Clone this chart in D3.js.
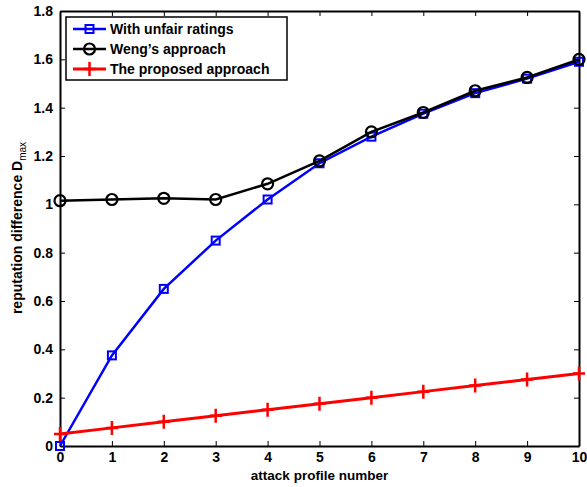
<!DOCTYPE html>
<html lang="en">
<head>
    <meta charset="UTF-8">
    <title>Reputation difference</title>
    <script src="https://cdn.jsdelivr.net/npm/d3@7"></script>
    <style>
        body { margin: 0; background: #fff; }
        svg { font-family: "Liberation Sans", Arial, sans-serif; font-weight: bold; }
    </style>
</head>
<body>
<div id="chart-space"></div>
<script>
    // data
    var profiles = [0, 1, 2, 3, 4, 5, 6, 7, 8, 9, 10];
    var unfairValues = [0.0, 0.375, 0.65, 0.85, 1.02, 1.17, 1.28, 1.375, 1.46, 1.52, 1.59];
    var wengValues = [1.015, 1.02, 1.025, 1.02, 1.085, 1.18, 1.30, 1.38, 1.47, 1.525, 1.60];
    var proposedValues = [0.05, 0.075, 0.10, 0.125, 0.15, 0.175, 0.20, 0.225, 0.25, 0.275, 0.30];
    var seriesNames = ["With unfair ratings", "Weng\u2019s approach", "The proposed approach"];
    var yTicks = [0, 0.2, 0.4, 0.6, 0.8, 1, 1.2, 1.4, 1.6, 1.8];

    var width = 587, height = 487;
    var margin = {top: 11, right: 8, bottom: 41, left: 60};
    var chartWidth = width - margin.left - margin.right;
    var chartHeight = height - margin.top - margin.bottom;

    var svg = d3.select("#chart-space").append("svg")
        .attr("width", width).attr("height", height);

    var g = svg.append("g").attr("transform", "translate(" + margin.left + "," + margin.top + ")");

    var x = d3.scaleLinear().domain([0, 10]).range([0, chartWidth]);
    var y = d3.scaleLinear().domain([0, 1.8]).range([chartHeight, 0]);

    var fmt = function(d){ return d3.format("~g")(d); };

    // axes, ticks inside like matlab
    var tl = 5;
    g.append("g").attr("transform", "translate(0," + chartHeight + ")")
        .call(d3.axisBottom(x).tickValues(profiles).tickSizeInner(-tl).tickSizeOuter(0).tickPadding(6).tickFormat(fmt))
        .attr("class", "ax");
    g.append("g")
        .call(d3.axisTop(x).tickValues(profiles).tickSizeInner(-tl).tickSizeOuter(0).tickFormat(""))
        .attr("class", "ax");
    g.append("g")
        .call(d3.axisLeft(y).tickValues(yTicks).tickSizeInner(-tl).tickSizeOuter(0).tickPadding(7).tickFormat(fmt))
        .attr("class", "ax");
    g.append("g").attr("transform", "translate(" + chartWidth + ",0)")
        .call(d3.axisRight(y).tickValues(yTicks).tickSizeInner(-tl).tickSizeOuter(0).tickFormat(""))
        .attr("class", "ax");

    g.selectAll(".ax path").attr("stroke", "#000").attr("stroke-width", 2);
    g.selectAll(".ax line").attr("stroke", "#000").attr("stroke-width", 1);
    g.selectAll(".ax text").attr("fill", "#000").style("font-size", "14px").style("font-weight", "bold").style("font-family", "'Liberation Sans', Arial, sans-serif");

    var line = d3.line().x(function(d, i){ return x(profiles[i]); }).y(function(d){ return y(d); });

    function drawMarker(sel, type, color) {
        if (type == "square") {
            sel.append("rect").attr("x", -4).attr("y", -4).attr("width", 8).attr("height", 8)
                .attr("fill", "none").attr("stroke", color).attr("stroke-width", 2);
        } else if (type == "circle") {
            sel.append("circle").attr("r", 5.5).attr("fill", "none").attr("stroke", color).attr("stroke-width", 2.2);
        } else {
            sel.append("path").attr("d", "M-6,0H6M0,-7V7").attr("stroke", color).attr("stroke-width", 2.5);
        }
    }

    var series = [
        {values: unfairValues, color: "#0000ff", marker: "square", w: 2.5},
        {values: wengValues, color: "#000000", marker: "circle", w: 2.5},
        {values: proposedValues, color: "#ff0000", marker: "plus", w: 3}
    ];

    series.forEach(function(s){
        g.append("path").datum(s.values).attr("d", line)
            .attr("fill", "none").attr("stroke", s.color).attr("stroke-width", s.w);
        g.selectAll(null).data(s.values).join("g")
            .attr("transform", function(d, i){ return "translate(" + x(profiles[i]) + "," + y(d) + ")"; })
            .each(function(){ drawMarker(d3.select(this), s.marker, s.color); });
    });

    // legend
    var lg = svg.append("g").attr("transform", "translate(66,17)");
    lg.append("rect").attr("width", 221).attr("height", 63).attr("fill", "#fff")
        .attr("stroke", "#000").attr("stroke-width", 1.5);
    series.forEach(function(s, i){
        var row = lg.append("g").attr("transform", "translate(0," + (12 + i * 20) + ")");
        row.append("line").attr("x1", 7).attr("x2", 40).attr("stroke", s.color).attr("stroke-width", s.w);
        drawMarker(row.append("g").attr("transform", "translate(23.5,0)"), s.marker, s.color);
        row.append("text").attr("x", 44).attr("y", 5).style("font-size", "14px").text(seriesNames[i]);
    });

    // axis labels
    svg.append("text").attr("x", margin.left + chartWidth / 2).attr("y", 480)
        .attr("text-anchor", "middle").style("font-size", "13.5px").text("attack profile number");

    var yl = svg.append("text").attr("transform", "translate(22,228) rotate(-90)")
        .attr("text-anchor", "middle").style("font-size", "14px");
    yl.append("tspan").text("reputation difference D");
    yl.append("tspan").attr("dy", 4).style("font-size", "10px").style("font-weight", "normal").text("max");
</script>
</body>
</html>
